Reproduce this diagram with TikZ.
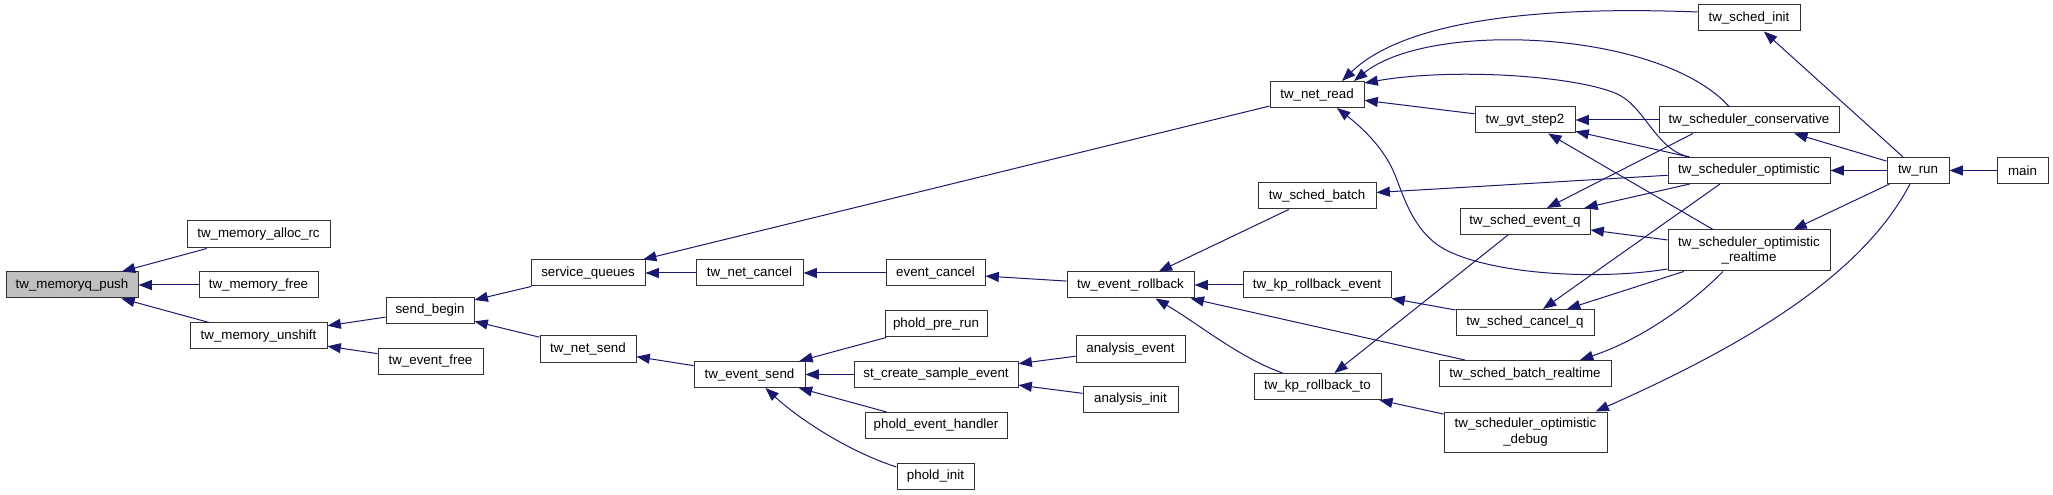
\documentclass[tikz,border=0pt]{standalone}
\usepackage{fontspec}
\setmainfont{Liberation Sans}
\usetikzlibrary{arrows.meta,calc}
\definecolor{mblue}{HTML}{191970}
\definecolor{gray75}{HTML}{BFBFBF}
\tikzset{
  nd/.style={draw=black!80, fill=white, line width=0.75pt, inner sep=0pt,
    minimum height=19.5pt, font=\fontsize{10}{11.5}\selectfont, align=center},
  bw/.style={minimum width=#1*0.75pt},
  cedge/.style={draw=mblue, line width=0.75pt, -{Triangle[length=10pt,width=7.5pt]}},
}
\begin{document}
\begin{tikzpicture}[x=0.75pt,y=-0.75pt]
\path[use as bounding box] (0,0) rectangle (2053,495);
% nodes
\node[nd,bw=132,fill=gray75] (push) at (72,285) {tw\_memoryq\_push};
\node[nd,bw=143,minimum height=20.25pt] (alloc) at (258.5,234.5) {tw\_memory\_alloc\_rc};
\node[nd,bw=119] (free) at (258.5,285) {tw\_memory\_free};
\node[nd,bw=137] (unshift) at (258.5,336) {tw\_memory\_unshift};
\node[nd,bw=88] (sendbegin) at (430,310.5) {send\_begin};
\node[nd,bw=105] (eventfree) at (430.5,361.5) {tw\_event\_free};
\node[nd,bw=114] (svcq) at (588,273) {service\_queues};
\node[nd,bw=96] (netsend) at (588,349) {tw\_net\_send};
\node[nd,bw=107] (netcancel) at (749.5,273) {tw\_net\_cancel};
\node[nd,bw=111] (evsend) at (749.5,374.5) {tw\_event\_send};
\node[nd,bw=99] (evcancel) at (935.5,273) {event\_cancel};
\node[nd,bw=102] (prerun) at (936,324) {phold\_pre\_run};
\node[nd,bw=164] (sample) at (936,374.5) {st\_create\_sample\_event};
\node[nd,bw=142] (handler) at (936,425.5) {phold\_event\_handler};
\node[nd,bw=77] (pinit) at (935.5,476) {phold\_init};
\node[nd,bw=127] (rollback) at (1130.5,285) {tw\_event\_rollback};
\node[nd,bw=94] (netread) at (1317,94.5) {tw\_net\_read};
\node[nd,bw=118] (batch) at (1317,196) {tw\_sched\_batch};
\node[nd,bw=148] (kpevent) at (1317,285) {tw\_kp\_rollback\_event};
\node[nd,bw=109] (anevent) at (1130.5,349) {analysis\_event};
\node[nd,bw=95] (aninit) at (1130.5,399.5) {analysis\_init};
\node[nd,bw=127] (kpto) at (1317.5,386.5) {tw\_kp\_rollback\_to};
\node[nd,bw=100] (gvt) at (1525,120) {tw\_gvt\_step2};
\node[nd,bw=130] (eventq) at (1525,221.5) {tw\_sched\_event\_q};
\node[nd,bw=138] (cancelq) at (1525,322.5) {tw\_sched\_cancel\_q};
\node[nd,bw=172] (batchrt) at (1525,373.5) {tw\_sched\_batch\_realtime};
\node[nd,bw=163,minimum height=30pt] (debug) at (1525.5,432) {tw\_scheduler\_optimistic\\\_debug};
\node[nd,bw=102] (schedinit) at (1749,18) {tw\_sched\_init};
\node[nd,bw=180] (conservative) at (1749,120) {tw\_scheduler\_conservative};
\node[nd,bw=162] (optimistic) at (1749,170.5) {tw\_scheduler\_optimistic};
\node[nd,bw=162,minimum height=30.75pt] (realtime) at (1749,250.5) {tw\_scheduler\_optimistic\\\_realtime};
\node[nd,bw=62] (run) at (1918,170.5) {tw\_run};
\node[nd,bw=51] (main) at (2022.5,170.5) {main};
% edges (arrow at callee)
\draw[cedge] (alloc) -- (push);
\draw[cedge] (free) -- (push);
\draw[cedge] (unshift) -- (push);
\draw[cedge] (sendbegin) -- (unshift);
\draw[cedge] (eventfree) -- (unshift);
\draw[cedge] (svcq) -- (sendbegin);
\draw[cedge] (netsend) -- (sendbegin);
\draw[cedge] (netread) -- (svcq);
\draw[cedge] (netcancel) -- (svcq);
\draw[cedge] (evcancel) -- (netcancel);
\draw[cedge] (evsend) -- (netsend);
\draw[cedge] (prerun) -- (evsend);
\draw[cedge] (sample) -- (evsend);
\draw[cedge] (handler) -- (evsend);
\draw[cedge] ($(pinit.west)+(0,-9)$) .. controls (850,452) and (800,420) .. ($(evsend.south)+(16,0)$);
\draw[cedge] (anevent) -- (sample);
\draw[cedge] (aninit) -- (sample);
\draw[cedge] (rollback) -- (evcancel);
\draw[cedge] (batch) -- (rollback);
\draw[cedge] (kpevent) -- (rollback);
\draw[cedge] ($(kpto.north west)+(29,0)$) .. controls (1240,358) and (1200,325) .. ($(rollback.south)+(25,0)$);
\draw[cedge] (batchrt) -- (rollback);
\draw[cedge] (cancelq) -- (kpevent);
\draw[cedge] (eventq) -- (kpto);
\draw[cedge] (debug) -- (kpto);
% callers of tw_net_read
\draw[cedge] ($(schedinit.west)+(0,-6)$) .. controls (1520,5) and (1400,25) .. ($(netread.north)+(25,0)$);
\draw[cedge] ($(conservative.north)+(-20,0)$) .. controls (1660,30) and (1430,20) .. ($(netread.north)+(37,0)$);
\draw[cedge] ($(optimistic.north west)+(22,0)$) .. controls (1655,150) and (1645,105) .. (1615,93)
   .. controls (1570,75) and (1450,68) .. ($(netread.north east)+(0,2)$);
\draw[cedge] (gvt) -- (netread);
\draw[cedge] ($(realtime.west)+(0,18.5)$) .. controls (1600,280) and (1500,275) .. (1450,252)
   .. controls (1415,236) and (1405,200) .. (1395,175)
   .. controls (1385,150) and (1365,130) .. ($(netread.south)+(20,0)$);
% callers of tw_gvt_step2
\draw[cedge] (conservative) -- (gvt);
\draw[cedge] (optimistic) -- (gvt);
\draw[cedge] (realtime) -- (gvt);
% callers of tw_sched_event_q
\draw[cedge] ($(conservative.south)+(-56,0)$) -- ($(eventq.north)+(22,0)$);
\draw[cedge] (optimistic) -- (eventq);
\draw[cedge] (realtime) -- (eventq);
% callers of tw_sched_cancel_q
\draw[cedge] ($(optimistic.south)+(-29,0)$) -- ($(cancelq.north)+(18,0)$);
\draw[cedge] (realtime) -- (cancelq);
% others
\draw[cedge] ($(realtime.south)+(-26,0)$) .. controls (1690,305) and (1640,340) .. ($(batchrt.north)+(55,0)$);
\draw[cedge] ($(run.south)+(-8,0)$) .. controls (1870,260) and (1780,330) .. ($(debug.north)+(70,0)$);
\draw[cedge] (optimistic) -- (batch);
\draw[cedge] (run) -- (schedinit);
\draw[cedge] (run) -- (conservative);
\draw[cedge] (run) -- (optimistic);
\draw[cedge] (run) -- (realtime);
\draw[cedge] (main) -- (run);
\end{tikzpicture}
\end{document}
